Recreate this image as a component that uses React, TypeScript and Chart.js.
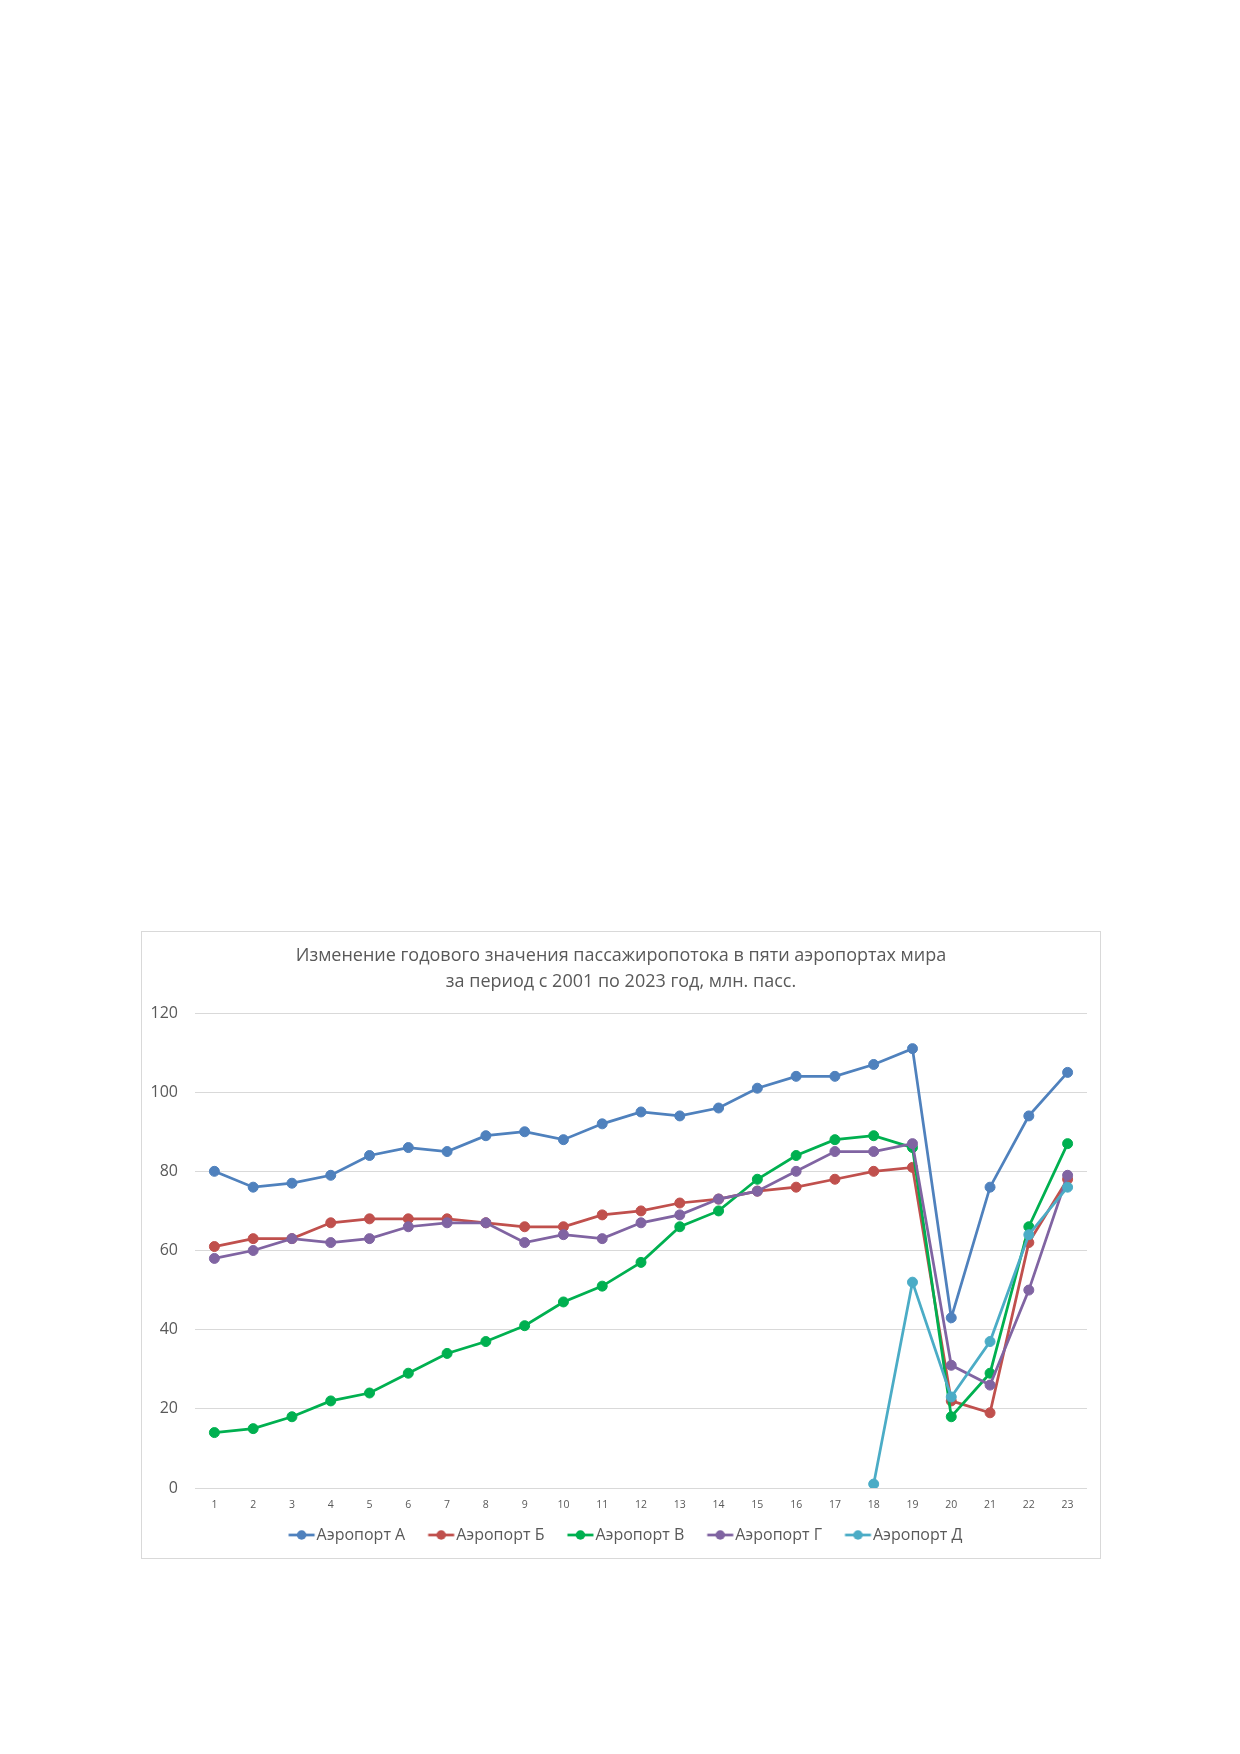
import { useEffect, useRef } from "react";
import { Chart, registerables } from "chart.js";

Chart.register(...registerables);

const categories = ["1", "2", "3", "4", "5", "6", "7", "8", "9", "10", "11", "12", "13", "14", "15", "16", "17", "18", "19", "20", "21", "22", "23"];
const yTickValues = [0, 20, 40, 60, 80, 100, 120];

const airportA = [80, 76, 77, 79, 84, 86, 85, 89, 90, 88, 92, 95, 94, 96, 101, 104, 104, 107, 111, 43, 76, 94, 105];
const airportB = [61, 63, 63, 67, 68, 68, 68, 67, 66, 66, 69, 70, 72, 73, 75, 76, 78, 80, 81, 22, 19, 62, 78];
const airportV = [14, 15, 18, 22, 24, 29, 34, 37, 41, 47, 51, 57, 66, 70, 78, 84, 88, 89, 86, 18, 29, 66, 87];
const airportG = [58, 60, 63, 62, 63, 66, 67, 67, 62, 64, 63, 67, 69, 73, 75, 80, 85, 85, 87, 31, 26, 50, 79];
const airportD = [null, null, null, null, null, null, null, null, null, null, null, null, null, null, null, null, null, 1, 52, 23, 37, 64, 76];

const seriesNames = ["Аэропорт А", "Аэропорт Б", "Аэропорт В", "Аэропорт Г", "Аэропорт Д"];
const seriesColors = ["#4F81BD", "#C0504D", "#00B050", "#8064A2", "#4BACC6"];

const titleLines = [
    "Изменение годового значения пассажиропотока в пяти аэропортах мира",
    "за период с 2001 по 2023 год, млн. пасс.",
];

const textColor = "#595959";
const gridColor = "#D9D9D9";

// "line with a dot" picture for the legend, like Excel draws it.
// The canvas is wider than needed so the visible part sits right next to the text.
const makeLegendMarker = (color: string) => {
    const c = document.createElement("canvas");
    c.width = 50;
    c.height = 12;
    const g = c.getContext("2d")!;
    g.strokeStyle = color;
    g.lineWidth = 2.75;
    g.beginPath();
    g.moveTo(19.5, 6);
    g.lineTo(45.5, 6);
    g.stroke();
    g.fillStyle = color;
    g.beginPath();
    g.arc(32.5, 6, 4.75, 0, Math.PI * 2);
    g.fill();
    return c;
};

const PassengerChart = () => {
    const canvasRef = useRef<HTMLCanvasElement>(null);

    useEffect(() => {
        const ctx = canvasRef.current;
        if (!ctx) return;

        Chart.defaults.font.family = "'Open Sans', sans-serif";

        const values = [airportA, airportB, airportV, airportG, airportD];
        const markers = seriesColors.map(makeLegendMarker);

        const chart = new Chart(ctx, {
            type: "line",
            data: {
                labels: categories,
                datasets: values.map((data, i) => ({
                    label: seriesNames[i],
                    data,
                    borderColor: seriesColors[i],
                    backgroundColor: seriesColors[i],
                    borderWidth: 2.75,
                    pointRadius: 5,
                    pointHoverRadius: 5,
                    pointBorderWidth: 1,
                    pointBackgroundColor: seriesColors[i],
                    pointBorderColor: seriesColors[i],
                    tension: 0,
                    // later series on top, as in Excel
                    order: values.length - i,
                })),
            },
            options: {
                responsive: false,
                animation: false,
                layout: { padding: { top: 0, left: 0, right: 0, bottom: 5 } },
                plugins: {
                    title: {
                        display: true,
                        text: titleLines,
                        color: textColor,
                        font: { size: 18, weight: "normal", lineHeight: 26 / 18 },
                        padding: { top: 11, bottom: 18 },
                    },
                    legend: {
                        position: "bottom",
                        labels: {
                            color: textColor,
                            font: { size: 16 },
                            usePointStyle: true,
                            pointStyleWidth: 29,
                            padding: 14,
                            sort: (a, b) => (a.datasetIndex ?? 0) - (b.datasetIndex ?? 0),
                            generateLabels: (c) =>
                                Chart.defaults.plugins.legend.labels.generateLabels(c).map((item) => ({
                                    ...item,
                                    pointStyle: markers[item.datasetIndex ?? 0],
                                })),
                        },
                    },
                    tooltip: { enabled: false },
                },
                scales: {
                    x: {
                        offset: true,
                        grid: { display: false, drawTicks: false },
                        border: { display: false },
                        ticks: { color: textColor, font: { size: 10.5 }, padding: 11, maxRotation: 0, autoSkip: false },
                        afterFit: (scale) => {
                            scale.height = 25;
                        },
                    },
                    y: {
                        min: 0,
                        max: 120,
                        grid: { color: gridColor, lineWidth: 1, drawTicks: false },
                        border: { display: false },
                        ticks: { color: textColor, font: { size: 16 }, padding: 17 },
                        afterBuildTicks: (scale) => {
                            scale.ticks = yTickValues.map((v) => ({ value: v }));
                        },
                        afterFit: (scale) => {
                            scale.width = 53;
                        },
                    },
                    // empty right-hand axis: only keeps a margin so title and legend stay centred on the box
                    yRight: {
                        position: "right",
                        grid: { display: false, drawTicks: false },
                        border: { display: false },
                        ticks: { display: false },
                        afterFit: (scale) => {
                            scale.width = 13;
                        },
                    },
                },
            },
        });

        return () => {
            chart.destroy();
        };
    }, []);

    return (
        <div
            style={{
                position: "absolute",
                left: 141,
                top: 931,
                width: 958,
                height: 626,
                border: "1px solid #D9D9D9",
                background: "#fff",
            }}
        >
            <canvas ref={canvasRef} width={958} height={626} style={{ display: "block" }} />
        </div>
    );
};

export default function App() {
    return (
        <div style={{ position: "absolute", left: 0, top: 0, width: 1240, height: 1754, background: "#fff" }}>
            <PassengerChart />
        </div>
    );
}
